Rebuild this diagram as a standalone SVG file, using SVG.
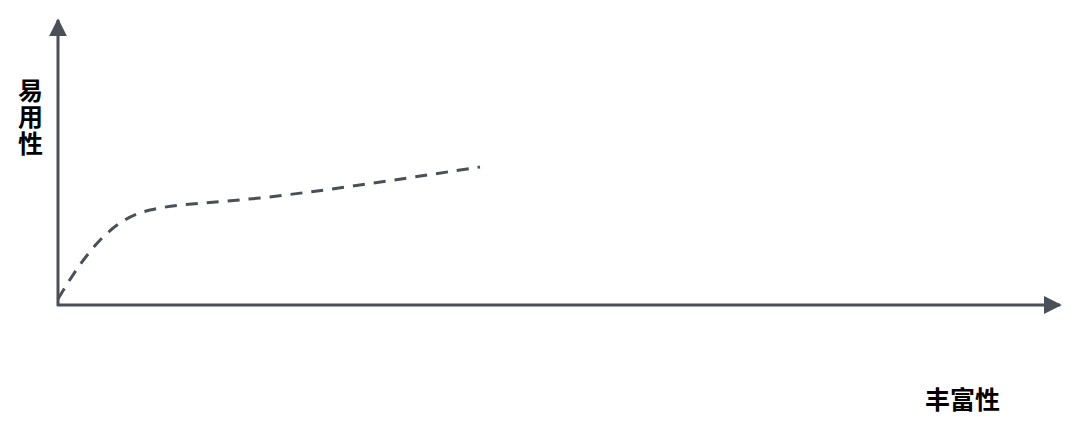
<svg xmlns="http://www.w3.org/2000/svg" width="1080" height="432" viewBox="0 0 1080 432">
<style>
.axis{stroke:#4b4f58;stroke-width:3;fill:none}
.curve{stroke:#4b4f58;stroke-width:3;fill:none;stroke-dasharray:12 9}
.lbl{font-family:"Liberation Sans","Noto Sans CJK SC",sans-serif;font-weight:bold;font-size:25px;fill:#000}
</style>
<defs>
<marker id="arr" viewBox="0 0 10 10" refX="9" refY="5" markerWidth="6" markerHeight="6" orient="auto" markerUnits="strokeWidth">
<path d="M0,0 L10,5 L0,10 z" fill="#4b4f58"/>
</marker>
</defs>
<rect width="1080" height="432" fill="#fff"/>
<g id="connectors">
<line class="axis" x1="58" y1="306" x2="58" y2="20" marker-end="url(#arr)"/>
<line class="axis" x1="57" y1="305" x2="1060" y2="305" marker-end="url(#arr)"/>
<path class="curve" d="M58,299 C90,245 115,218 150,210 C175,204 210,203 260,198 C340,189 420,176 480,167"/>
</g>
<g id="y-label">
<text class="lbl" x="18" y="100">易</text>
<text class="lbl" x="18" y="126">用</text>
<text class="lbl" x="18" y="153">性</text>
</g>
<g id="x-label">
<text class="lbl" x="925" y="409">丰富性</text>
</g>
</svg>
